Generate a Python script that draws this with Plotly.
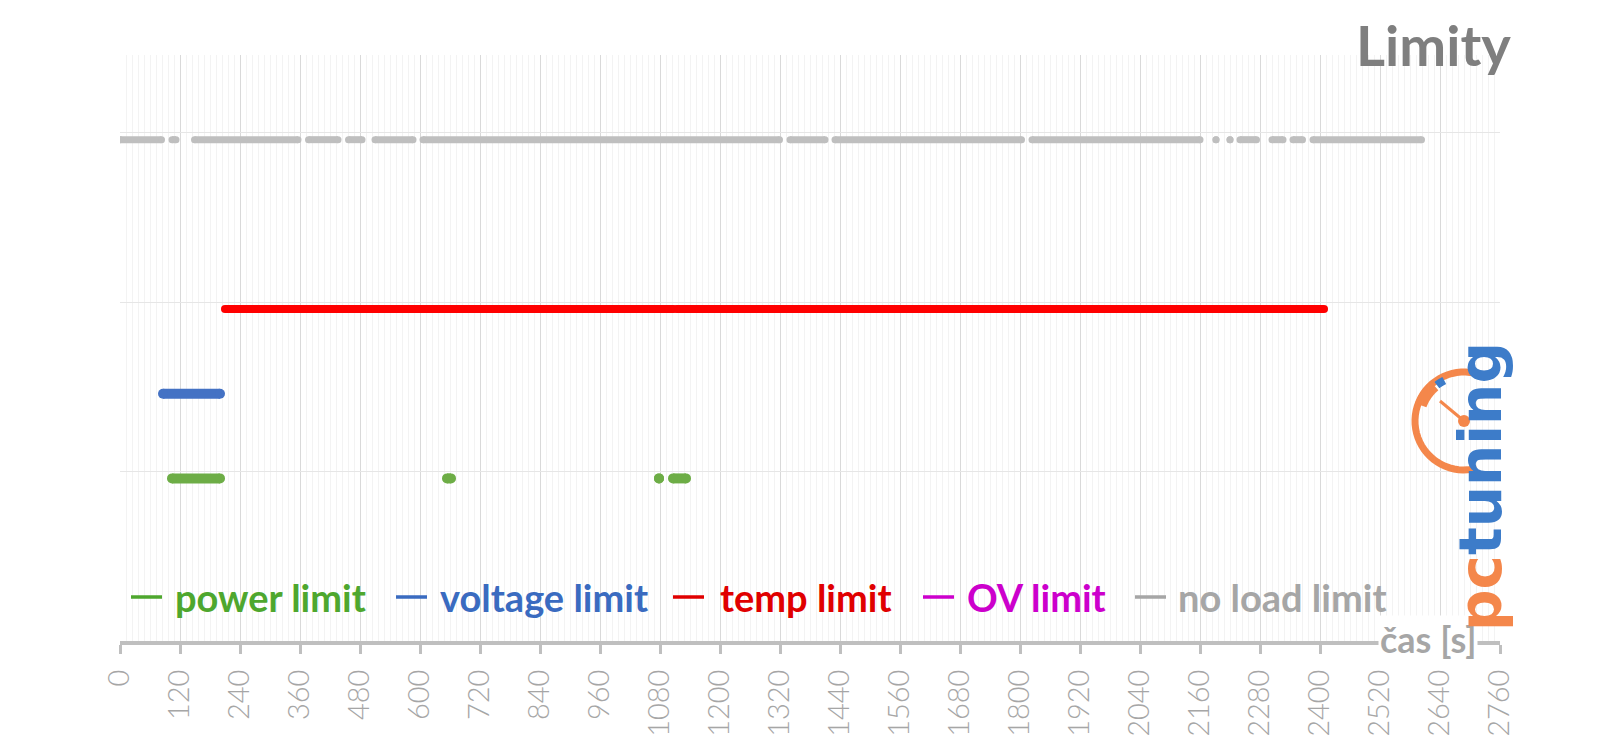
import math
import plotly.graph_objects as go

# ---------------- data ----------------
time_ticks = list(range(0, 2761, 120))
tick_labels = [str(t) for t in time_ticks]

series_names = ["power limit", "voltage limit", "temp limit", "OV limit", "no load limit"]
series_levels = [1, 1.5, 2, 2.5, 3]
series_colors = ["#6DAD46", "#4472C4", "#FF0000", "#CC00CC", "#BFBFBF"]
legend_text_colors = ["#4EA72E", "#3A6BC0", "#E00000", "#CC00CC", "#A6A6A6"]
marker_sizes = [10, 10, 8, 8, 7]

# intervals (seconds) in which each limit was active
power_start = [104, 654, 1078, 1106]
power_end = [200, 662, 1078, 1132]
voltage_start = [86]
voltage_end = [200]
temp_start = [210, 1113]
temp_end = [1107, 2408]
ov_start = []
ov_end = []
noload_start = [0, 104, 149, 377, 457, 510, 606, 1340, 1430, 1824, 2192, 2220, 2240, 2304, 2346, 2386]
noload_end = [83, 112, 356, 436, 484, 586, 1319, 1410, 1803, 2160, 2192, 2220, 2273, 2326, 2365, 2603]

starts = [power_start, voltage_start, temp_start, ov_start, noload_start]
ends = [power_end, voltage_end, temp_end, ov_end, noload_end]

# ---------------- geometry (screen pixels; page body has an 8px margin) ----------------
OFF = 8
W, H = 1600 - OFF, 738 - OFF
PL, PR, PT, PB = 120, 1500, 55, 641  # plot area on screen
ML, MR, MT, MB = PL - OFF, (1600 - PR), PT - OFF, (738 - PB)
PW, PH = PR - PL, PB - PT


def px(xp):
    return (xp - PL) / PW


def py(yp):
    return (PB - yp) / PH


fig = go.Figure()

for name, lvl, col, ms, s_list, e_list in zip(series_names, series_levels, series_colors,
                                               marker_sizes, starts, ends):
    xs, ys = [], []
    for s, e in zip(s_list, e_list):
        xs += [s, e, None]
        ys += [lvl, lvl, None]
    fig.add_trace(go.Scatter(
        x=xs, y=ys, name=name, mode="lines+markers",
        line=dict(color=col, width=ms),
        marker=dict(color=col, size=ms),
        showlegend=False, hoverinfo="x+name",
    ))

annotations = []
shapes = []
# legend drawn as dash + text
dash_left_px = [131, 396, 673, 923, 1135]
text_left_px = [173, 438, 718, 965, 1176]
for name, tcol, dl, tl in zip(series_names, legend_text_colors, dash_left_px, text_left_px):
    shapes.append(dict(type="line", xref="paper", yref="paper",
                       x0=px(dl), x1=px(dl + 31), y0=py(597), y1=py(597),
                       line=dict(color=tcol, width=3.5)))
    annotations.append(dict(
        text=name, x=px(tl), y=py(597), xref="paper", yref="paper",
        xanchor="left", yanchor="middle", showarrow=False,
        font=dict(family="Lato", size=38, color=tcol, weight="bold"),
    ))

# title
annotations.append(dict(
    text="Limity", x=px(1513), y=py(45), xref="paper", yref="paper",
    xanchor="right", yanchor="middle", showarrow=False,
    font=dict(family="Lato", size=56, color="#7F7F7F", weight="bold"),
))

# axis title
annotations.append(dict(
    text="čas [s]", x=px(1428), y=py(639), xref="paper", yref="paper",
    xanchor="center", yanchor="middle", showarrow=False, bgcolor="white",
    font=dict(family="Lato", size=36, color="#A6A6A6", weight="bold"),
))

# logo text
annotations.append(dict(
    text="<span style='color:#F4874B'>pc</span><span style='color:#3D7CC9'>tuning</span>",
    x=px(1481), y=py(487), xref="paper", yref="paper", textangle=-90,
    xanchor="center", yanchor="middle", showarrow=False,
    font=dict(family="DejaVu Sans", size=58, color="#3D7CC9", weight="bold"),
))

# logo gauge shapes
cx, cy, r = 1464, 421, 49


def arc_path(a0, a1, rad, n=40):
    pts = []
    for i in range(n + 1):
        a = math.radians(a0 + (a1 - a0) * i / n)
        pts.append((px(cx + rad * math.cos(a)), py(cy - rad * math.sin(a))))
    return "M " + " L ".join(f"{x:.5f},{y:.5f}" for x, y in pts)


shapes += [
    dict(type="path", path=arc_path(72, 285, r), xref="paper", yref="paper",
         line=dict(color="#F4874B", width=7)),
    dict(type="path", path=arc_path(130, 160, r - 3), xref="paper", yref="paper",
         line=dict(color="#F4874B", width=12)),
    dict(type="path", path=arc_path(116, 127, r - 4), xref="paper", yref="paper",
         line=dict(color="#3D7CC9", width=8)),
    dict(type="line", xref="paper", yref="paper",
         x0=px(cx), y0=py(cy), x1=px(cx - 24), y1=py(cy - 20),
         line=dict(color="#F4874B", width=3)),
    dict(type="circle", xref="paper", yref="paper",
         x0=px(cx - 6), x1=px(cx + 6), y0=py(cy + 6), y1=py(cy - 6),
         fillcolor="#F4874B", line=dict(width=0)),
]

fig.update_layout(
    width=W, height=H, autosize=False,
    margin=dict(l=ML, r=MR, t=MT, b=MB),
    plot_bgcolor="white", paper_bgcolor="white",
    annotations=annotations, shapes=shapes,
    xaxis=dict(
        range=[0, 2760], tickvals=time_ticks, ticktext=tick_labels, tickangle=-90,
        showgrid=True, gridcolor="#D9D9D9", gridwidth=1,
        minor=dict(dtick=12, tick0=0, showgrid=True, gridcolor="#F3F3F3", gridwidth=1, ticks=""),
        showline=True, linecolor="#BFBFBF", linewidth=4,
        ticks="outside", ticklen=9, tickwidth=3, tickcolor="#BFBFBF",
        tickfont=dict(family="Lato", size=29, color="#A6A6A6", weight=300),
        ticklabelstandoff=4,
        zeroline=False, automargin=False,
    ),
    yaxis=dict(
        range=[0.04, 3.5], tick0=0.04, dtick=1, showticklabels=False,
        showgrid=True, gridcolor="#E6E6E6", gridwidth=1, zeroline=False, ticks="",
    ),
)

fig.write_html("out.html")
